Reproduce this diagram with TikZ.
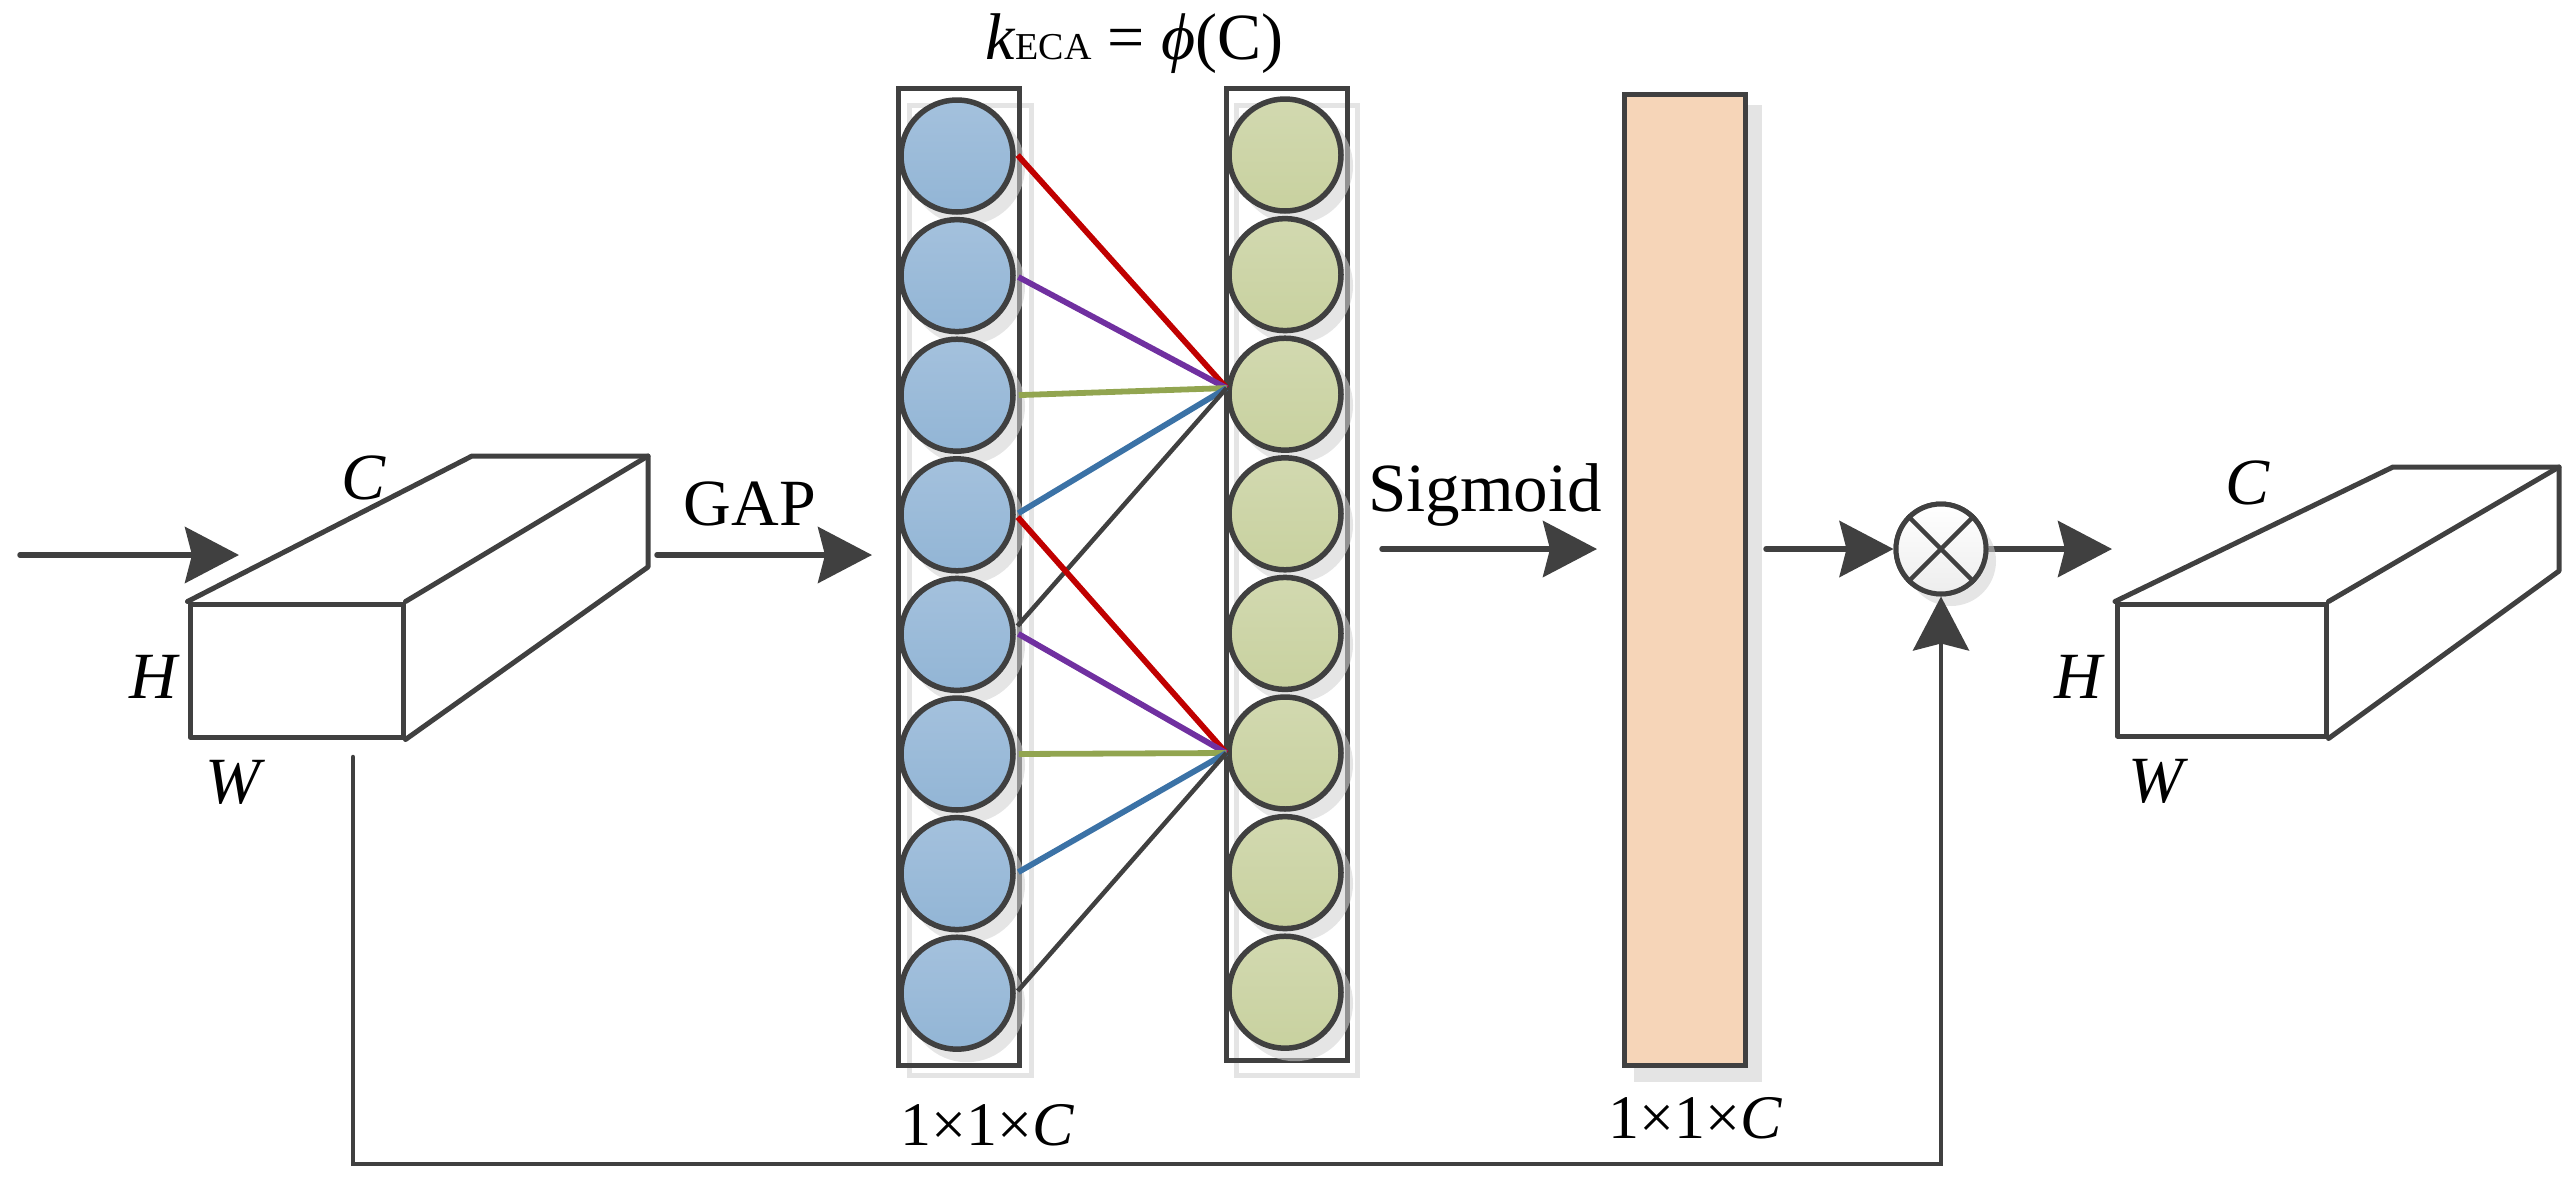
\documentclass[tikz,border=0pt]{standalone}
\usepackage{fontspec}
\setmainfont{Liberation Serif}
\usetikzlibrary{arrows.meta}
\definecolor{ink}{HTML}{404040}
\definecolor{framesh}{HTML}{E4E4E4}
\definecolor{discsh}{HTML}{D1D1D1}
\definecolor{blueT}{HTML}{A4C1DD}
\definecolor{blueB}{HTML}{92B5D5}
\definecolor{greenT}{HTML}{D2D9B0}
\definecolor{greenB}{HTML}{C8D19F}
\definecolor{peach}{HTML}{F6D5B8}
\definecolor{cred}{HTML}{C00000}
\definecolor{cpurple}{HTML}{7030A0}
\definecolor{cgreen}{HTML}{92A550}
\definecolor{cblue}{HTML}{3B72A6}
\tikzset{
  lbl/.style={anchor=base,inner sep=0pt,text=black,font=\fontsize{66}{72}\selectfont},
  dims/.style={lbl,font=\fontsize{62}{68}\selectfont},
  disc/.style={circle,draw=ink,line width=5.5pt,minimum size=112pt,inner sep=0pt,shading angle=0},
  bluedisc/.style={disc,top color=blueT,bottom color=blueB},
  greendisc/.style={disc,top color=greenT,bottom color=greenB},
  discshadow/.style={fill=discsh,fill opacity=.56},
  column/.style={rectangle,draw=ink,line width=5pt,inner sep=0pt,minimum width=121pt},
  columnshadow/.style={draw=framesh,line width=5pt},
  face/.style={rectangle,draw=ink,line width=5pt,inner sep=0pt,line join=round},
  edge3d/.style={draw=ink,line width=5pt,line join=round,line cap=round},
  arrowline/.style={draw=ink,line width=5.5pt,line cap=round,-{Stealth[length=54pt,width=56pt,inset=7pt,fill=ink]}},
  link/.style={line width=5.8pt,shorten <=3pt},
  thinlink/.style={draw=ink,line width=4.5pt,shorten <=3pt},
}
\begin{document}
\begin{tikzpicture}[x=1pt,y=-1pt]
\useasboundingbox (0,0) rectangle (2575,1187);
% column shadows
\draw[columnshadow] (909,105) rectangle (1031,1075);
\draw[columnshadow] (1236,105) rectangle (1357,1075);
\fill[framesh] (1634,105) rectangle (1762,1082);
% columns
\node[column,minimum height=977pt] (colL) at (958.5,576.5) {};
\node[column,minimum height=972pt] (colR) at (1286.5,574) {};
\node[column,minimum height=971pt,fill=peach] (bar) at (1684.5,579.5) {};
% disc shadows
\foreach \i in {1,...,8}{
  \fill[discshadow] (967,{156+119.6*(\i-1)+11}) circle[radius=58];
  \fill[discshadow] (1295,{155+119.6*(\i-1)+11}) circle[radius=58];
}
% discs
\foreach \i in {1,...,8}{
  \node[bluedisc] (l\i) at (957,{156+119.6*(\i-1)}) {};
  \node[greendisc] (r\i) at (1285,{155+119.6*(\i-1)}) {};
}
% links
\draw[link,cred] (l1.3) -- (r3.174);
\draw[link,cpurple] (l2.east) -- (r3.174);
\draw[link,cgreen] (l3.east) -- (r3.174);
\draw[link,cblue] (l4.east) -- (r3.174);
\draw[thinlink] (l5.6) -- (r3.174);
\draw[link,cred] (l4.east) -- (r6.west);
\draw[link,cpurple] (l5.2) -- (r6.west);
\draw[link,cgreen] (l6.east) -- (r6.west);
\draw[link,cblue] (l7.east) -- (r6.west);
\draw[thinlink] (l8.east) -- (r6.west);
% first box
\node[face,minimum width=213pt,minimum height=133pt] (boxA) at (296.5,670.5) {};
\coordinate (a1) at (472,456);
\coordinate (a2) at (648,456);
\coordinate (a3) at (648,567);
\draw[edge3d] (boxA.north west) -- (a1) -- (a2) -- (a3) -- (boxA.south east);
\draw[edge3d] (boxA.north east) -- (a2);
% second box
\node[face,minimum width=208.5pt,minimum height=132pt] (boxB) at (2221.75,670) {};
\coordinate (b1) at (2393,467);
\coordinate (b2) at (2559,467);
\coordinate (b3) at (2559,571);
\draw[edge3d] (boxB.north west) -- (b1) -- (b2) -- (b3) -- (boxB.south east);
\draw[edge3d] (boxB.north east) -- (b2);
% arrows
\coordinate (inS) at (20,555);
\coordinate (inE) at (239,555);
\draw[arrowline] (inS) -- (inE);
\coordinate (gapS) at (657,555);
\coordinate (gapE) at (872,555);
\draw[arrowline] (gapS) -- (gapE);
\coordinate (sigS) at (1382,549);
\coordinate (sigE) at (1597,549);
\draw[arrowline] (sigS) -- (sigE);
% multiply
\coordinate (barOut) at (1766,549);
\coordinate (mulOut) at (2112,549);
\coordinate (fbS) at (353,757);
\coordinate (fbC) at (353,1164);
\node[circle,minimum size=90pt,inner sep=0pt,line width=5pt,draw=ink,fill=white] (mul) at (1941,549) {};
\draw[arrowline] (barOut) -- (mul.west);
\draw[arrowline] (mul.east) -- (mulOut);
\fill[discshadow] (1951,561) circle[radius=45];
\draw[draw=ink,line width=4.5pt,line join=miter,line cap=round,-{Stealth[length=54pt,width=56pt,inset=7pt,fill=ink]}] (fbS) -- (fbC) -| (mul.south);
\node[circle,minimum size=90pt,inner sep=0pt,line width=5pt,draw=ink,top color=white,bottom color=black!7] (mulT) at (1941,549) {};
\draw[ink,line width=4.5pt] (mulT.45) -- (mulT.225);
\draw[ink,line width=4.5pt] (mulT.135) -- (mulT.-45);
% texts
\node[lbl,anchor=base west] (title) at (985,59) {\textit{k}{\fontsize{38}{42}\selectfont ECA} = \textit{ϕ}(C)};
\node[lbl] (gap) at (750,525) {GAP};
\node[lbl,font=\fontsize{69}{75}\selectfont] (sig) at (1485,511) {Sigmoid};
\node[lbl] (cA) at (364,499) {\textit{C}};
\node[lbl] (hA) at (155,698) {\textit{H}};
\node[lbl] (wA) at (235,803) {\textit{W}};
\node[lbl] (cB) at (2248,504) {\textit{C}};
\node[lbl] (hB) at (2080,698) {\textit{H}};
\node[lbl] (wB) at (2158,802) {\textit{W}};
\node[dims] (dimL) at (987,1145) {1×1×\textit{C}};
\node[dims] (dimR) at (1695,1138) {1×1×\textit{C}};
\end{tikzpicture}
\end{document}
